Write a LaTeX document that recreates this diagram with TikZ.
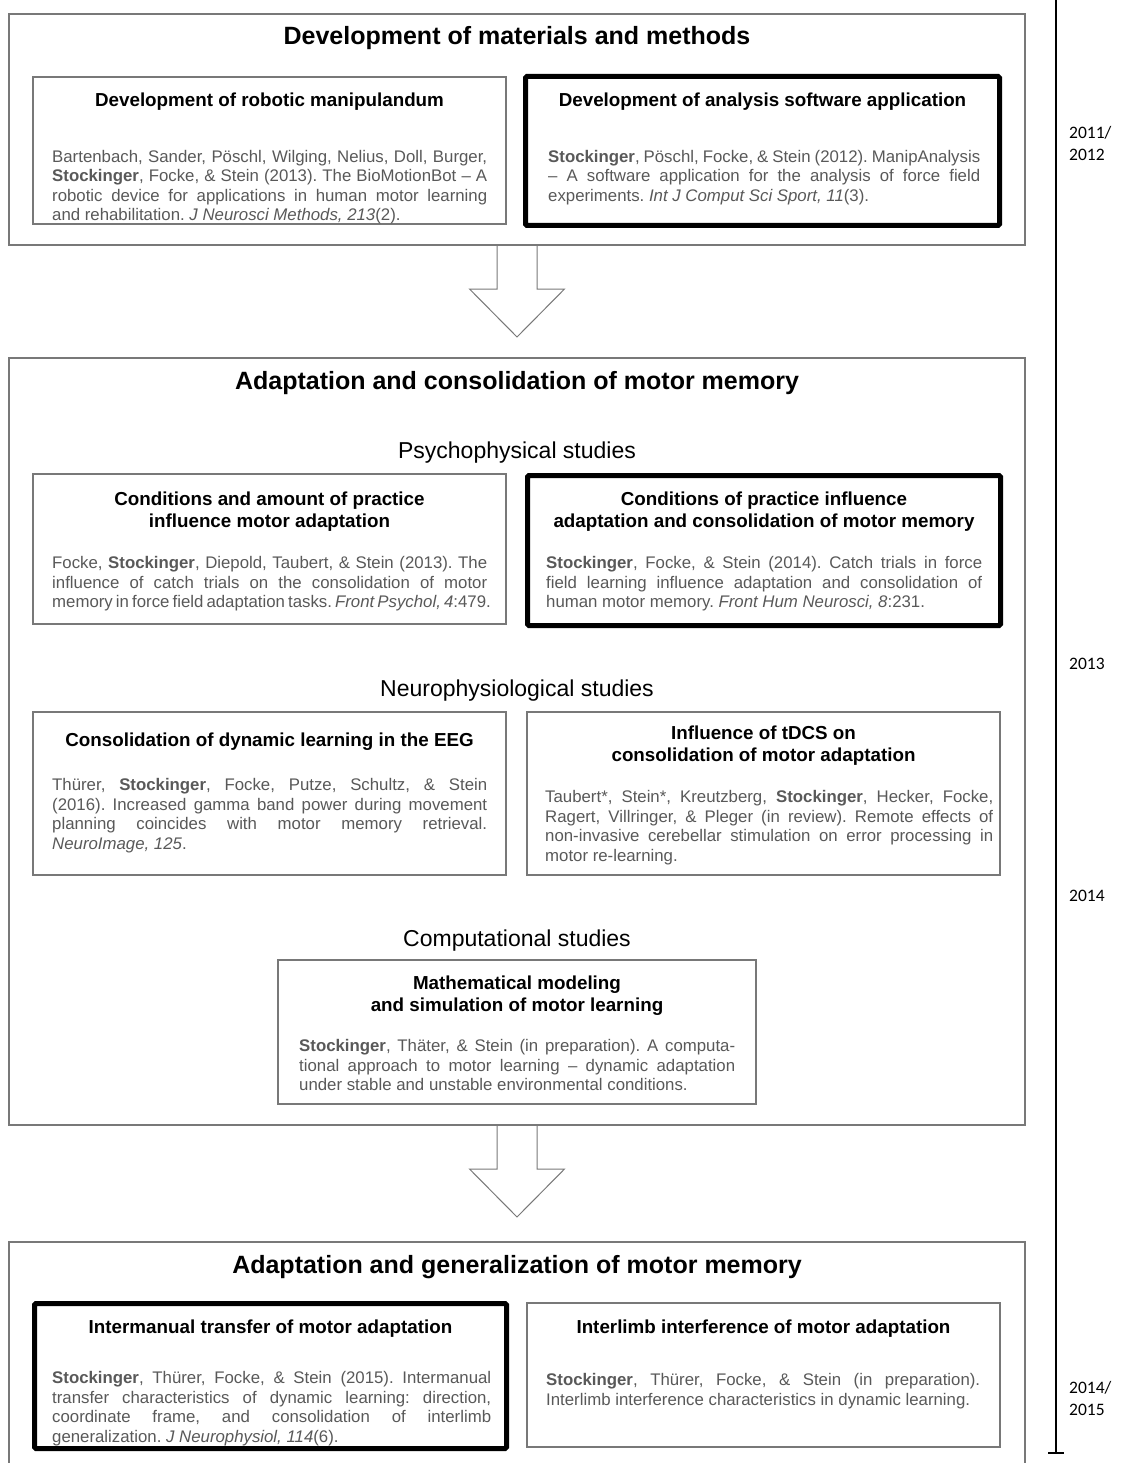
\documentclass[tikz,border=0pt]{standalone}
\usepackage{fontspec}
\setmainfont{Liberation Sans}
\newfontfamily\yearfont{Carlito}
\usetikzlibrary{calc}
\definecolor{txtgray}{RGB}{89,89,89}
\definecolor{linegray}{RGB}{120,120,120}
\frenchspacing
\newcommand\jl[1]{\makebox[\hsize][s]{#1}\par}
\newcommand\btext[2]{\vtop{\hsize=#1\parindent=0pt\parskip=0pt\leftskip=0pt\rightskip=0pt\parfillskip=0pt plus 1fil\relax #2}}
\newcommand\ctext[2]{\vtop{\hsize=#1\parindent=0pt\parskip=0pt\leftskip=0pt plus 1fil\rightskip=0pt plus 1fil\parfillskip=0pt\relax #2}}
\begin{document}
\begin{tikzpicture}[x=1pt,y=-1pt,
  outerbox/.style={draw=linegray, line width=1.2pt, inner sep=0pt, outer sep=0pt, anchor=north west},
  thinbox/.style={draw=linegray, line width=1.1pt, inner sep=0pt, outer sep=0pt, anchor=north west},
  thickbox/.style={draw=black, line width=5pt, rounded corners=1.5pt, inner sep=0pt, outer sep=0pt, anchor=north west},
  sectitle/.style={font=\fontsize{25}{30}\selectfont\bfseries, inner sep=0pt, anchor=base},
  subtitle/.style={font=\fontsize{23}{27}\selectfont, inner sep=0pt, anchor=base},
  boxtitle/.style={font=\fontsize{18.8}{22}\selectfont\bfseries, inner sep=0pt, anchor=base},
  body/.style={font=\fontsize{16.8}{19.5}\selectfont, text=txtgray, inner sep=0pt, anchor=base west},
  years/.style={font=\yearfont\fontsize{17.5}{22}\selectfont, inner sep=0pt, anchor=base west},
  blockarr/.style={draw=linegray, line width=1pt, line join=miter},
  timeline/.style={draw=black, line width=2pt}
]
\useasboundingbox (0,0) rectangle (1129,1463);
\fill[white] (0,0) rectangle (1129,1463);
\clip (0,0) rectangle (1129,1463);

% ---------- outer section boxes ----------
\node[outerbox, minimum width=1016pt, minimum height=231pt] (m1) at (9,14) {};
\node[outerbox, minimum width=1016pt, minimum height=767pt] (m2) at (9,358) {};
\node[outerbox, minimum width=1016pt, minimum height=260pt] (m3) at (9,1242) {};

\node[sectitle] (t1) at (517,45) {Development of materials and methods};
\node[sectitle] (t2) at (517,389) {Adaptation and consolidation of motor memory};
\node[sectitle] (t3) at (517,1273) {Adaptation and generalization of motor memory};

\node[subtitle] (s1) at (517,458) {Psychophysical studies};
\node[subtitle] (s2) at (517,696) {Neurophysiological studies};
\node[subtitle] (s3) at (517,946) {Computational studies};

% ---------- section 1 ----------
\node[thinbox, minimum width=473pt, minimum height=147pt] (robot) at (33,77) {};
\node[boxtitle] (robotT) at (269.5,106.5) {Development of robotic manipulandum};
\node[body] (robotB) at (52,162.5) {\btext{435pt}{%
\jl{Bartenbach, Sander, Pöschl, Wilging, Nelius, Doll, Burger,}%
\jl{\textbf{Stockinger}, Focke, \& Stein (2013). The BioMotionBot – A}%
\jl{robotic device for applications in human motor learning}%
and rehabilitation. \textit{J Neurosci Methods, 213}(2).}};

\node[thickbox, minimum width=474pt, minimum height=149pt] (soft) at (525.5,76.5) {};
\node[boxtitle] (softT) at (762.5,106.5) {Development of analysis software application};
\node[body] (softB) at (548,162.5) {\btext{432pt}{%
\jl{\textbf{Stockinger}, Pöschl, Focke, \& Stein (2012). ManipAnalysis}%
\jl{– A software application for the analysis of force field}%
experiments. \textit{Int J Comput Sci Sport, 11}(3).}};

% ---------- section 2: psychophysical ----------
\node[thinbox, minimum width=473pt, minimum height=150pt] (cond1) at (33,474) {};
\node[boxtitle] (cond1T) at (269.5,505) {\ctext{470pt}{Conditions and amount of practice\par influence motor adaptation}};
\node[body] (cond1B) at (52,568.5) {\btext{435pt}{%
\jl{Focke, \textbf{Stockinger}, Diepold, Taubert, \& Stein (2013). The}%
\jl{influence of catch trials on the consolidation of motor}%
memory in force field adaptation tasks. \textit{Front Psychol, 4}:479.}};

\node[thickbox, minimum width=473pt, minimum height=150pt] (cond2) at (527.5,475.5) {};
\node[boxtitle] (cond2T) at (764,505.5) {\ctext{470pt}{Conditions of practice influence\par adaptation and consolidation of motor memory}};
\node[body] (cond2B) at (546,568.5) {\btext{436pt}{%
\jl{\textbf{Stockinger}, Focke, \& Stein (2014). Catch trials in force}%
\jl{field learning influence adaptation and consolidation of}%
human motor memory. \textit{Front Hum Neurosci, 8}:231.}};

% ---------- section 2: neurophysiological ----------
\node[thinbox, minimum width=473pt, minimum height=163pt] (eeg) at (33,712) {};
\node[boxtitle] (eegT) at (269.5,746.5) {Consolidation of dynamic learning in the EEG};
\node[body] (eegB) at (52,790.5) {\btext{435pt}{%
\jl{Thürer, \textbf{Stockinger}, Focke, Putze, Schultz, \& Stein}%
\jl{(2016). Increased gamma band power during movement}%
\jl{planning coincides with motor memory retrieval.}%
\textit{NeuroImage, 125}.}};

\node[thinbox, minimum width=473pt, minimum height=163pt] (tdcs) at (527,712) {};
\node[boxtitle] (tdcsT) at (763.5,739.5) {\ctext{470pt}{Influence of tDCS on\par consolidation of motor adaptation}};
\node[body] (tdcsB) at (545,802.5) {\btext{448pt}{%
\jl{Taubert*, Stein*, Kreutzberg, \textbf{Stockinger}, Hecker, Focke,}%
\jl{Ragert, Villringer, \& Pleger (in review). Remote effects of}%
\jl{non-invasive cerebellar stimulation on error processing in}%
motor re-learning.}};

% ---------- section 2: computational ----------
\node[thinbox, minimum width=478pt, minimum height=144pt] (math) at (278,960) {};
\node[boxtitle] (mathT) at (517,989.5) {\ctext{475pt}{Mathematical modeling\par and simulation of motor learning}};
\node[body] (mathB) at (299,1051.5) {\btext{436pt}{%
\jl{\textbf{Stockinger}, Thäter, \& Stein (in preparation). A computa-}%
\jl{tional approach to motor learning – dynamic adaptation}%
under stable and unstable environmental conditions.}};

% ---------- section 3 ----------
\node[thickbox, minimum width=472pt, minimum height=145pt] (inter) at (34.5,1303.5) {};
\node[boxtitle] (interT) at (270.5,1333.5) {Intermanual transfer of motor adaptation};
\node[body] (interB) at (52,1383.5) {\btext{439pt}{%
\jl{\textbf{Stockinger}, Thürer, Focke, \& Stein (2015). Intermanual}%
\jl{transfer characteristics of dynamic learning: direction,}%
\jl{coordinate frame, and consolidation of interlimb}%
generalization. \textit{J Neurophysiol, 114}(6).}};

\node[thinbox, minimum width=473pt, minimum height=144pt] (limb) at (527,1303) {};
\node[boxtitle] (limbT) at (763.5,1333.5) {Interlimb interference of motor adaptation};
\node[body] (limbB) at (546,1385.5) {\btext{434pt}{%
\jl{\textbf{Stockinger}, Thürer, Focke, \& Stein (in preparation).}%
Interlimb interference characteristics in dynamic learning.}};

% ---------- block arrows ----------
\draw[blockarr] ([xshift=-20pt]m1.south) -- ++(0,44) -- ++(-27.5,0) -- ++(47.5,48)
  -- ++(47.5,-48) -- ++(-27.5,0) -- ([xshift=20pt]m1.south);
\draw[blockarr] ([xshift=-20pt]m2.south) -- ++(0,44) -- ++(-27.5,0) -- ++(47.5,48)
  -- ++(47.5,-48) -- ++(-27.5,0) -- ([xshift=20pt]m2.south);

% ---------- timeline ----------
\coordinate (tltop) at (1056,-2);
\coordinate (tlbot) at (1056,1453);
\draw[timeline] (tltop) -- (tlbot);
\draw[draw=black, line width=1.5pt] ([xshift=-8pt]tlbot) -- ([xshift=8pt]tlbot);

\node[years] (y1) at (1069,139) {\vtop{\hbox{2011/}\hbox{2012}}};
\node[years] (y2) at (1069,669) {2013};
\node[years] (y3) at (1069,901) {2014};
\node[years] (y4) at (1069,1393) {\vtop{\hbox{2014/}\hbox{2015}}};
\end{tikzpicture}
\end{document}
